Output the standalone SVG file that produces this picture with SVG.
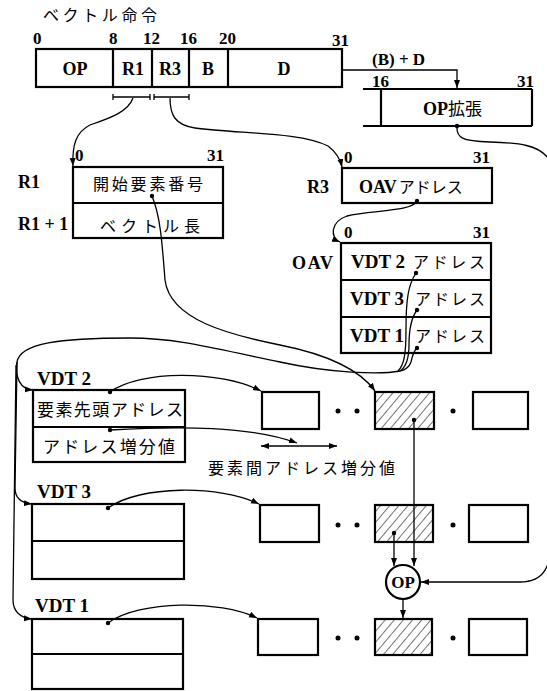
<svg xmlns="http://www.w3.org/2000/svg" width="547" height="691" viewBox="0 0 547 691">
<style>
.box{fill:#fff;stroke:#000;stroke-width:2.2}
.ln{fill:none;stroke:#000;stroke-width:1.3}
.bl{font-family:"Liberation Serif",serif;font-weight:bold;fill:#000}
.jp{font-family:"Noto Sans CJK JP",sans-serif;fill:#000}
.hat{fill:url(#hatch);stroke:#000;stroke-width:2.2}
</style>
<defs>
<pattern id="hatch" patternUnits="userSpaceOnUse" width="7" height="7" patternTransform="rotate(40)">
<rect width="7" height="7" fill="#fff"/>
<line x1="0" y1="0" x2="0" y2="7" stroke="#000" stroke-width="1.1"/>
</pattern>
<marker id="ar" markerUnits="userSpaceOnUse" markerWidth="9" markerHeight="8" refX="8" refY="4" orient="auto">
<path d="M0,1 L8,4 L0,7 Z" fill="#000"/>
</marker>
<marker id="ar2" markerUnits="userSpaceOnUse" markerWidth="9" markerHeight="8" refX="1" refY="4" orient="auto">
<path d="M9,1 L1,4 L9,7 Z" fill="#000"/>
</marker>
<marker id="dot" markerUnits="userSpaceOnUse" markerWidth="6" markerHeight="6" refX="3" refY="3">
<circle cx="3" cy="3" r="2.2" fill="#000"/>
</marker>
</defs>

<text class="jp" x="43" y="21" font-size="16" textLength="114" lengthAdjust="spacing">ベクトル命令</text>

<g id="instruction">
<rect class="box" x="36" y="49" width="306" height="38"/>
<line class="box" x1="113" y1="49" x2="113" y2="87"/>
<line class="box" x1="152" y1="49" x2="152" y2="87"/>
<line class="box" x1="189" y1="49" x2="189" y2="87"/>
<line class="box" x1="228" y1="49" x2="228" y2="87"/>
<g class="bl" font-size="17">
<text x="33" y="44">0</text><text x="109" y="44">8</text><text x="143" y="44">12</text><text x="180" y="44">16</text><text x="219" y="44">20</text><text x="332" y="46">31</text>
</g>
<g class="bl" font-size="18" text-anchor="middle">
<text x="75" y="75">OP</text><text x="133" y="75">R1</text><text x="170" y="75">R3</text><text x="208" y="75">B</text><text x="284" y="75">D</text>
</g>
<path class="ln" d="M113,94 V100 M113,97 H150 M150,94 V100 M154,94 V100 M154,97 H189 M189,94 V100"/>
</g>

<g id="opext">
<line class="box" x1="363" y1="89" x2="532" y2="89"/>
<line class="box" x1="363" y1="126" x2="532" y2="126"/>
<line class="box" x1="381" y1="89" x2="381" y2="126"/>
<line class="box" x1="532" y1="89" x2="532" y2="126"/>
<text class="bl" x="372" y="87" font-size="17">16</text>
<text class="bl" x="517" y="87" font-size="17">31</text>
<text x="423" y="115" font-size="17"><tspan class="bl" font-size="18">OP</tspan><tspan class="jp">拡張</tspan></text>
<text class="bl" x="372" y="65" font-size="17" font-weight="normal">(B) + D</text>
</g>

<g id="r1reg">
<rect class="box" x="73" y="167" width="150" height="71"/>
<line class="box" x1="73" y1="203" x2="223" y2="203"/>
<text class="bl" x="75" y="161" font-size="17">0</text>
<text class="bl" x="207" y="161" font-size="17">31</text>
<text class="bl" x="18" y="188" font-size="18">R1</text>
<text class="bl" x="18" y="230" font-size="18">R1 + 1</text>
<text class="jp" x="93" y="190" font-size="16" textLength="110" lengthAdjust="spacing">開始要素番号</text>
<text class="jp" x="100" y="232" font-size="16" textLength="100" lengthAdjust="spacing">ベクトル長</text>
</g>

<g id="r3reg">
<rect class="box" x="342" y="168" width="150" height="35"/>
<text class="bl" x="344" y="163" font-size="17">0</text>
<text class="bl" x="473" y="163" font-size="17">31</text>
<text class="bl" x="307" y="193" font-size="18">R3</text>
<text x="359" y="193"><tspan class="bl" font-size="18">OAV</tspan><tspan class="jp" font-size="16" dx="2">アドレス</tspan></text>
</g>

<g id="oav">
<rect class="box" x="341" y="243" width="150" height="110"/>
<line class="box" x1="341" y1="280" x2="491" y2="280"/>
<line class="box" x1="341" y1="317" x2="491" y2="317"/>
<text class="bl" x="344" y="238" font-size="17">0</text>
<text class="bl" x="473" y="238" font-size="17">31</text>
<text class="bl" x="292" y="269" font-size="18" textLength="41">OAV</text>
<text class="bl" x="351" y="268" font-size="19">VDT 2</text>
<text class="bl" x="350" y="305" font-size="19">VDT 3</text>
<text class="bl" x="350" y="342" font-size="19">VDT 1</text>
<text class="jp" x="413" y="268" font-size="16" textLength="72" lengthAdjust="spacing">アドレス</text>
<text class="jp" x="415" y="305" font-size="16" textLength="70" lengthAdjust="spacing">アドレス</text>
<text class="jp" x="415" y="342" font-size="16" textLength="70" lengthAdjust="spacing">アドレス</text>
</g>

<g id="vdt2">
<rect class="box" x="33" y="390" width="152" height="72"/>
<line class="box" x1="33" y1="427" x2="185" y2="427"/>
<text class="bl" x="37" y="385" font-size="19">VDT 2</text>
<text class="jp" x="37" y="416" font-size="17" textLength="146" lengthAdjust="spacing">要素先頭アドレス</text>
<text class="jp" x="43" y="453" font-size="17" textLength="132" lengthAdjust="spacing">アドレス増分値</text>
</g>
<g id="vdt3">
<rect class="box" x="32" y="504" width="152" height="75"/>
<line class="box" x1="32" y1="541" x2="184" y2="541"/>
<text class="bl" x="37" y="498" font-size="19">VDT 3</text>
</g>
<g id="vdt1">
<rect class="box" x="32" y="619" width="151" height="70"/>
<line class="box" x1="32" y1="654" x2="183" y2="654"/>
<text class="bl" x="35" y="612" font-size="19">VDT 1</text>
</g>

<g id="row2">
<rect class="box" x="262" y="392" width="57" height="37"/>
<rect class="hat" x="375" y="392" width="59" height="37"/>
<rect class="box" x="473" y="392" width="55" height="37"/>
<circle cx="338" cy="411" r="2.5"/><circle cx="357" cy="411" r="2.5"/><circle cx="453" cy="411" r="2.5"/>
</g>
<g id="row3">
<rect class="box" x="260" y="505" width="59" height="37"/>
<rect class="hat" x="375" y="505" width="58" height="37"/>
<rect class="box" x="469" y="505" width="59" height="37"/>
<circle cx="338" cy="525" r="2.5"/><circle cx="357" cy="525" r="2.5"/><circle cx="453" cy="525" r="2.5"/>
</g>
<g id="row1">
<rect class="box" x="258" y="619" width="60" height="36"/>
<rect class="hat" x="375" y="619" width="57" height="36"/>
<rect class="box" x="469" y="619" width="58" height="36"/>
<circle cx="338" cy="638" r="2.5"/><circle cx="357" cy="638" r="2.5"/><circle cx="453" cy="638" r="2.5"/>
</g>

<g id="opnode">
<circle cx="403" cy="582" r="17" fill="#fff" stroke="#000" stroke-width="2.2"/>
<text class="bl" x="403" y="588" font-size="17" text-anchor="middle">OP</text>
</g>

<text class="jp" x="208" y="474" font-size="16" textLength="187" lengthAdjust="spacing">要素間アドレス増分値</text>

<g id="connectors">
<path class="ln" d="M342,70 H457 V88" marker-end="url(#ar)"/>
<path class="ln" d="M133,98 C128,112 110,118 90,125 C76,132 72,145 73,166" marker-end="url(#ar)"/>
<path class="ln" d="M170,98 C170,115 175,125 195,128 C240,134 300,132 328,146 C336,152 340,158 342,167" marker-end="url(#ar)"/>
<path class="ln" d="M417,201 C412,212 370,210 347,216 C330,222 330,238 340,242" marker-start="url(#dot)" marker-end="url(#ar)"/>
<path class="ln" d="M457,126 C456,138 462,141 490,142 C520,143 538,145 548,158 C551,162 552,166 552,172 L551,540 C551,565 545,582 520,582 L421,582" marker-start="url(#dot)" marker-end="url(#ar)"/>
<path class="ln" d="M152,196 C160,215 162,240 165,280 C170,320 230,335 280,345 C330,355 360,370 375,391" marker-start="url(#dot)" marker-end="url(#ar)"/>
<path class="ln" d="M416,273 C408,285 406,300 406,330 C406,355 404,365 398,371" marker-start="url(#dot)"/>
<path class="ln" d="M417,310 C411,318 409,330 409,345 C409,360 406,367 400,371" marker-start="url(#dot)"/>
<path class="ln" d="M417,348 C413,352 412,358 411,362 C409,368 405,370 400,371" marker-start="url(#dot)"/>
<path class="ln" d="M400,371 C380,375 330,373 280,362 C220,350 180,338 130,338 C60,338 20,343 17,362"/>
<path class="ln" d="M17,362 C15,378 20,389 33,390" marker-end="url(#ar)"/>
<path class="ln" d="M17,362 L15,488 C15,498 22,503 32,504" marker-end="url(#ar)"/>
<path class="ln" d="M16,365 L13,600 C13,611 20,618 32,619" marker-end="url(#ar)"/>
<path class="ln" d="M110,392 C140,370 220,370 261,391" marker-start="url(#dot)" marker-end="url(#ar)"/>
<path class="ln" d="M108,508 C140,485 220,485 259,504" marker-start="url(#dot)" marker-end="url(#ar)"/>
<path class="ln" d="M108,623 C140,600 220,600 257,618" marker-start="url(#dot)" marker-end="url(#ar)"/>
<path class="ln" d="M110,430 C180,426 250,426 297,443" marker-start="url(#dot)" marker-end="url(#ar)"/>
<path class="ln" d="M261,446 H337" marker-start="url(#ar2)" marker-end="url(#ar)"/>
<path class="ln" d="M414,420 V566" marker-start="url(#dot)" marker-end="url(#ar)"/>
<path class="ln" d="M394,533 V566" marker-start="url(#dot)" marker-end="url(#ar)"/>
<path class="ln" d="M403,599 V618" marker-end="url(#ar)"/>
</g>
</svg>
